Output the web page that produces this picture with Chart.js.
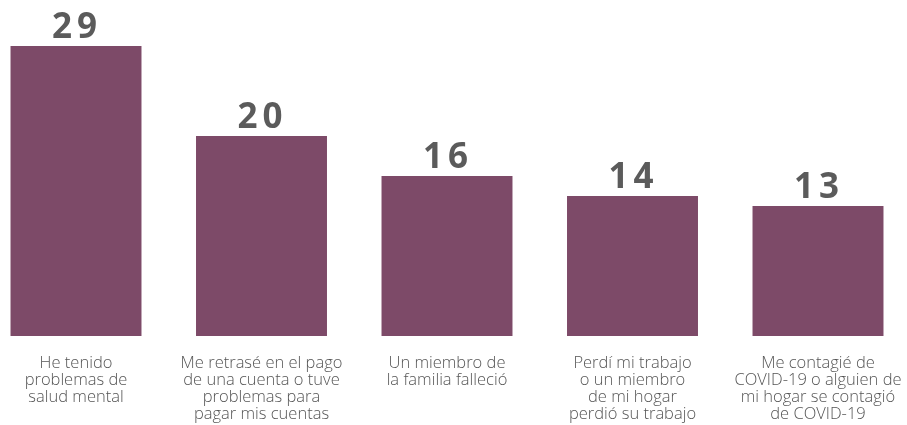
<!DOCTYPE html>
<html><head><meta charset="utf-8">
<script src="https://cdn.jsdelivr.net/npm/chart.js@4"></script>
<style>html,body{margin:0;padding:0;background:#fff}#wrap{width:907px;height:425px}</style>
</head><body><div id="wrap"><canvas id="c"></canvas></div>
<script>
const categories = [
  ["He tenido","problemas de","salud mental"],
  ["Me retrasé en el pago","de una cuenta o tuve","problemas para","pagar mis cuentas"],
  ["Un miembro de","la familia falleció"],
  ["Perdí mi trabajo","o un miembro","de mi hogar","perdió su trabajo"],
  ["Me contagié de","COVID-19 o alguien de","mi hogar se contagió","de COVID-19"]
];
const values = [29, 20, 16, 14, 13];

const valueLabels = {
  id: 'valueLabels',
  afterDatasetsDraw(chart) {
    const ctx = chart.ctx;
    const meta = chart.getDatasetMeta(0);
    ctx.save();
    ctx.fillStyle = '#5b5b5b';
    ctx.font = '700 35px "Open Sans"';
    ctx.textAlign = 'center';
    ctx.textBaseline = 'alphabetic';
    if ('letterSpacing' in ctx) ctx.letterSpacing = '5px';
    meta.data.forEach((bar, i) => {
      ctx.fillText(String(values[i]), bar.x + 1, bar.y - 8);
    });
    ctx.restore();
  }
};

new Chart(document.getElementById('c'), {
  type: 'bar',
  data: {
    labels: categories,
    datasets: [{
      data: values,
      backgroundColor: '#7d4a68',
      borderWidth: 0,
      categoryPercentage: 1,
      barPercentage: 0.706,
      clip: false
    }]
  },
  options: {
    responsive: true,
    maintainAspectRatio: false,
    animation: false,
    layout: { padding: { left: 76, right: 89, top: 46, bottom: 0 } },
    plugins: { legend: { display: false }, tooltip: { enabled: false } },
    scales: {
      x: {
        offset: false,
        grid: { display: false, drawTicks: false },
        border: { display: false },
        afterFit(scale) { scale.height = 92; scale.paddingLeft = 0; scale.paddingRight = 0; },
        ticks: {
          autoSkip: false, maxRotation: 0, minRotation: 0,
          padding: 22,
          color: '#555555',
          font: { family: 'Open Sans', weight: '300', size: 16.5, lineHeight: 1.03 }
        }
      },
      y: {
        display: false,
        min: 0.3, max: 29
      }
    }
  },
  plugins: [valueLabels]
});
</script></body></html>
